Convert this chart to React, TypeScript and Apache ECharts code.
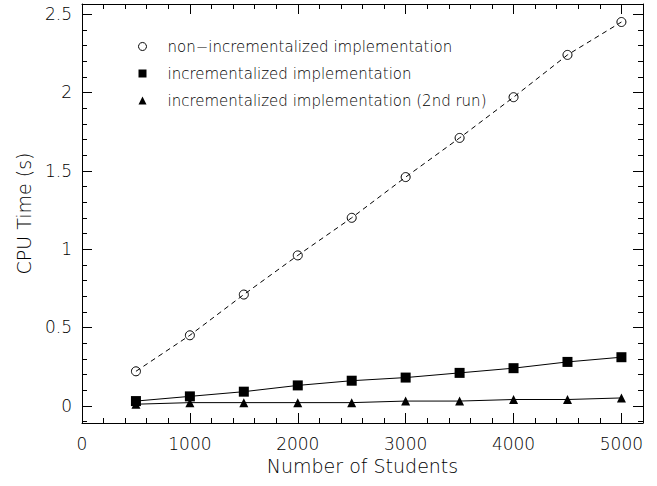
import React, { useEffect, useRef } from "react";
import * as echarts from "echarts";

const students = [500, 1000, 1500, 2000, 2500, 3000, 3500, 4000, 4500, 5000];
const nonIncremental = [0.22, 0.45, 0.71, 0.96, 1.2, 1.46, 1.71, 1.97, 2.24, 2.45];
const incremental = [0.03, 0.06, 0.09, 0.13, 0.16, 0.18, 0.21, 0.24, 0.28, 0.31];
const incremental2nd = [0.01, 0.02, 0.02, 0.02, 0.02, 0.03, 0.03, 0.04, 0.04, 0.05];

const seriesNames = [
  "non\u2212incrementalized implementation",
  "incrementalized implementation",
  "incrementalized implementation (2nd run)",
];

const xMajorTicks = [0, 1000, 2000, 3000, 4000, 5000];
const xMinorTicks = [200, 400, 600, 800, 1200, 1400, 1600, 1800, 2200, 2400, 2600, 2800, 3200, 3400, 3600, 3800, 4200, 4400, 4600, 4800];
const yMajorTicks = [0, 0.5, 1, 1.5, 2, 2.5];
const yMinorTicks = [-0.1, 0.1, 0.2, 0.3, 0.4, 0.6, 0.7, 0.8, 0.9, 1.1, 1.2, 1.3, 1.4, 1.6, 1.7, 1.8, 1.9, 2.1, 2.2, 2.3, 2.4];

const X_MIN = 0;
const X_MAX = 5200;
const Y_MIN = -0.11;
const Y_MAX = 2.565;

const FONT = "'DejaVu Sans', sans-serif";
const INK = "#000";

export default function App() {
  const ref = useRef<HTMLDivElement>(null);

  useEffect(() => {
    if (!ref.current) return;
    const chart = echarts.init(ref.current, null, { renderer: "svg" });

    const mkX = (position: string, major: boolean, withLabel: boolean, withLine: boolean): any => ({
      type: "value",
      min: X_MIN,
      max: X_MAX,
      position,
      axisLine: { show: withLine, onZero: false, lineStyle: { color: INK, width: 1 } },
      axisTick: {
        show: true,
        inside: true,
        length: major ? 10 : 5,
        customValues: major ? xMajorTicks : xMinorTicks,
        lineStyle: { color: INK, width: 1 },
      },
      axisLabel: withLabel
        ? {
            show: true,
            customValues: xMajorTicks,
            formatter: (v: number) => String(v),
            fontFamily: FONT,
            fontSize: 17,
            fontWeight: 200,
            color: INK,
            margin: 12,
          }
        : { show: false },
      splitLine: { show: false },
      ...(withLabel
        ? {
            name: "Number of Students",
            nameLocation: "middle",
            nameGap: 33,
            nameTextStyle: { fontFamily: FONT, fontSize: 19, fontWeight: 200, color: INK },
          }
        : {}),
    });

    const mkY = (position: string, major: boolean, withLabel: boolean, withLine: boolean): any => ({
      type: "value",
      min: Y_MIN,
      max: Y_MAX,
      position,
      axisLine: { show: withLine, onZero: false, lineStyle: { color: INK, width: 1 } },
      axisTick: {
        show: true,
        inside: true,
        length: major ? 10 : 5,
        customValues: major ? yMajorTicks : yMinorTicks,
        lineStyle: { color: INK, width: 1 },
      },
      axisLabel: withLabel
        ? {
            show: true,
            customValues: yMajorTicks,
            formatter: (v: number) => String(v),
            fontFamily: FONT,
            fontSize: 17,
            fontWeight: 200,
            color: INK,
            margin: 10,
          }
        : { show: false },
      splitLine: { show: false },
      ...(withLabel
        ? {
            name: "CPU Time (s)",
            nameLocation: "middle",
            nameGap: 49,
            nameRotate: 90,
            nameTextStyle: { fontFamily: FONT, fontSize: 19, fontWeight: 200, color: INK },
          }
        : {}),
    });

    const toPairs = (ys: number[]) => students.map((x, i) => [x, ys[i]]);

    chart.setOption({
      animation: false,
      backgroundColor: "#fff",
      grid: { left: 82, right: 14, top: 4, bottom: 63, containLabel: false },
      legend: {
        orient: "vertical",
        left: 133,
        top: 34,
        itemWidth: 8,
        itemHeight: 8,
        itemGap: 12,
        selectedMode: false,
        textStyle: { fontFamily: FONT, fontSize: 15, fontWeight: 200, color: INK, padding: [0, 0, 0, 16] },
        data: [
          { name: seriesNames[0], icon: "circle", itemStyle: { color: "transparent", borderColor: INK, borderWidth: 1 } },
          { name: seriesNames[1], icon: "rect", itemStyle: { color: INK } },
          { name: seriesNames[2], icon: "triangle", itemStyle: { color: INK } },
        ],
      },
      xAxis: [mkX("bottom", true, true, true), mkX("bottom", false, false, false), mkX("top", true, false, true), mkX("top", false, false, false)],
      yAxis: [mkY("left", true, true, true), mkY("left", false, false, false), mkY("right", true, false, true), mkY("right", false, false, false)],
      series: [
        {
          name: seriesNames[0],
          type: "line",
          data: toPairs(nonIncremental),
          symbol: "circle",
          symbolSize: 9,
          itemStyle: { color: "transparent", borderColor: INK, borderWidth: 1 },
          lineStyle: { color: INK, width: 1, type: [5, 4] },
        },
        {
          name: seriesNames[1],
          type: "line",
          data: toPairs(incremental),
          symbol: "rect",
          symbolSize: 10,
          itemStyle: { color: INK },
          lineStyle: { color: INK, width: 1 },
        },
        {
          name: seriesNames[2],
          type: "line",
          data: toPairs(incremental2nd),
          symbol: "triangle",
          symbolSize: 9,
          itemStyle: { color: INK },
          lineStyle: { color: INK, width: 1 },
        },
      ],
    });

    return () => chart.dispose();
  }, []);

  return <div ref={ref} style={{ position: "absolute", left: 0, top: 0, width: 657, height: 486 }} />;
}
